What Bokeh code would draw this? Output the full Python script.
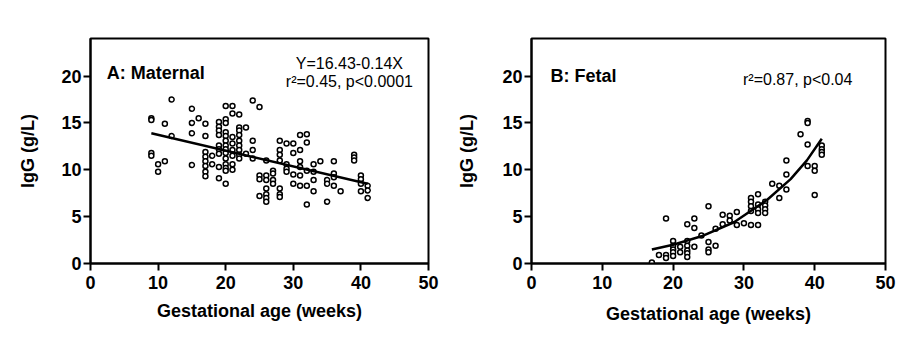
from bokeh.plotting import figure
from bokeh.layouts import row
from bokeh.models import Label, Range1d, FixedTicker
from bokeh.embed import file_html
from bokeh.resources import INLINE

# ---- Panel A: maternal IgG ----
mat_age = [9, 9, 9, 9, 10, 10, 11, 11, 12, 12, 15, 15, 15, 15, 16,
           17, 17, 17, 17, 17, 17, 17, 17, 18, 18,
           19, 19, 19, 19, 19, 19, 19, 19, 19,
           20, 20, 20, 20, 20, 20, 20, 20, 20, 20, 20, 20, 20, 20,
           21, 21, 21, 21, 21, 21, 21, 21,
           22, 22, 22, 22, 22, 22, 22, 22, 22,
           23, 23, 24, 24, 24, 24, 25, 25, 25, 25,
           26, 26, 26, 26, 26, 26, 26, 27, 27, 27, 27,
           28, 28, 28, 28, 28, 28, 28, 29, 29, 29, 29, 30, 30, 30, 30,
           31, 31, 31, 31, 31, 31, 32, 32, 32, 32, 32, 33, 33, 33, 33,
           34, 35, 35, 35, 36, 36, 36, 36, 37, 39, 39, 39,
           40, 40, 40, 40, 41, 41, 41]
mat_igg = [15.5, 15.3, 11.8, 11.5, 10.6, 9.8, 14.9, 10.9, 17.5, 13.6, 16.5, 15.0, 13.9, 10.5, 15.5,
           14.9, 13.6, 11.9, 11.4, 10.9, 10.4, 9.8, 9.3, 11.5, 10.6,
           15.1, 14.6, 14.2, 13.7, 12.6, 12.2, 11.7, 10.3, 9.1,
           16.8, 15.4, 15.0, 14.0, 13.6, 13.1, 12.6, 12.2, 11.8, 11.2, 10.6, 10.2, 9.9, 8.5,
           16.8, 16.0, 13.5, 12.8, 12.1, 11.5, 10.6, 10.0,
           15.9, 14.5, 14.2, 13.7, 13.1, 12.6, 12.1, 11.6, 11.2,
           14.5, 11.7, 17.4, 13.1, 12.1, 11.2, 16.7, 9.4, 9.0, 7.2,
           11.0, 9.4, 8.9, 8.0, 7.4, 7.0, 6.6, 9.9, 9.6, 8.9, 8.5,
           13.1, 12.1, 11.6, 11.0, 8.0, 7.4, 7.1, 12.8, 10.6, 10.1, 9.8, 12.8, 11.8, 9.5, 8.5,
           13.7, 12.1, 10.9, 10.3, 9.4, 8.3, 13.8, 12.9, 9.9, 8.3, 6.3, 10.6, 9.8, 8.9, 7.7,
           10.9, 8.9, 8.5, 6.6, 10.9, 9.6, 9.2, 8.3, 7.7, 11.6, 11.3, 11.0,
           9.4, 9.0, 8.5, 7.7, 8.3, 7.8, 7.0]
mat_fit_age = [9, 41]
mat_fit_igg = [13.9, 8.5]

# ---- Panel B: fetal IgG ----
fet_age = [17, 18, 19, 19, 19, 20, 20, 20, 20, 20, 21, 21,
           22, 22, 22, 22, 22, 22, 23, 23, 23, 24, 25, 25, 25, 25, 26, 26,
           27, 27, 28, 28, 29, 29, 30,
           31, 31, 31, 31, 31, 32, 32, 32, 32, 32, 33, 33, 33, 33,
           34, 35, 35, 36, 36, 36, 38, 39, 39, 39, 39, 40, 40, 40, 41, 41, 41, 41]
fet_igg = [0.1, 0.9, 4.8, 0.9, 0.6, 2.4, 1.9, 1.5, 1.2, 0.8, 1.8, 1.2,
           4.2, 2.4, 1.9, 1.4, 1.1, 0.7, 4.8, 3.8, 1.8, 3.0, 6.1, 2.3, 1.5, 1.2, 3.7, 1.9,
           5.2, 4.2, 5.1, 4.6, 5.5, 4.1, 4.3,
           7.0, 6.6, 6.1, 5.6, 4.1, 7.4, 6.3, 5.8, 5.4, 4.1, 6.6, 6.2, 5.8, 5.4,
           8.5, 8.3, 7.0, 11.0, 9.5, 7.9, 13.8, 15.2, 15.0, 12.7, 10.4, 10.4, 9.9, 7.3,
           12.6, 12.2, 11.9, 11.6]
fet_fit_age = [17, 20, 24, 28.6, 33.3, 36.6, 38.9, 41]
fet_fit_igg = [1.5, 2.0, 2.9, 4.4, 6.8, 9.0, 11.0, 13.3]

x_ticks = [0, 10, 20, 30, 40, 50]
y_ticks = [0, 5, 10, 15, 20]

FONT = "Liberation Sans"


def make_panel(width, bl, br, bt, bb, tick_len, ylab_standoff, xlab_standoff):
    p = figure(width=width, height=328, output_backend="svg", toolbar_location=None,
               x_range=Range1d(0, 50), y_range=Range1d(0, 24),
               min_border_left=bl, min_border_right=br,
               min_border_top=bt, min_border_bottom=bb)
    p.grid.visible = False
    p.outline_line_color = "black"
    p.outline_line_width = 2
    p.background_fill_color = "white"
    p.border_fill_color = "white"
    p.xaxis.ticker = FixedTicker(ticks=x_ticks)
    p.yaxis.ticker = FixedTicker(ticks=y_ticks)
    for ax in (p.xaxis[0], p.yaxis[0]):
        ax.axis_line_width = 2
        ax.axis_line_color = "black"
        ax.major_tick_line_width = 2
        ax.major_tick_line_color = "black"
        ax.major_tick_in = 0
        ax.major_tick_out = tick_len
        ax.minor_tick_line_color = None
        ax.major_label_text_font = FONT
        ax.major_label_text_font_style = "bold"
        ax.major_label_text_font_size = "18px"
        ax.major_label_text_color = "black"
        ax.axis_label_text_font = FONT
        ax.axis_label_text_font_style = "bold"
        ax.axis_label_text_font_size = "18px"
        ax.axis_label_text_color = "black"
    p.xaxis.major_label_standoff = 5
    p.yaxis.major_label_standoff = 2
    p.xaxis.axis_label = "Gestational age (weeks)"
    p.yaxis.axis_label = "IgG (g/L)"
    p.xaxis.axis_label_standoff = xlab_standoff
    p.yaxis.axis_label_standoff = ylab_standoff
    return p


pa = make_panel(452, 90, 24, 38, 63, 7, 20, 9)
pa.scatter(mat_age, mat_igg, marker="circle", size=5, fill_color="white",
           line_color="black", line_width=1.5)
pa.line(mat_fit_age, mat_fit_igg, line_color="black", line_width=2.5)
pa.add_layout(Label(x=2.4, y=20.3, text="A: Maternal", text_font=FONT,
                    text_font_style="bold", text_font_size="18px",
                    text_baseline="middle", text_align="left", text_color="black"))
pa.add_layout(Label(x=38.3, y=21.3, text="Y=16.43-0.14X", text_font=FONT,
                    text_font_size="16px", text_baseline="middle",
                    text_align="center", text_color="black"))
pa.add_layout(Label(x=38.3, y=19.4, text="r²=0.45, p<0.0001", text_font=FONT,
                    text_font_size="16px", text_baseline="middle",
                    text_align="center", text_color="black"))

pb = make_panel(447, 79, 14, 28, 65, 7, 22, 12)
pb.scatter(fet_age, fet_igg, marker="circle", size=5, fill_color="white",
           line_color="black", line_width=1.5)
pb.line(fet_fit_age, fet_fit_igg, line_color="black", line_width=2.5)
pb.add_layout(Label(x=2.7, y=20.0, text="B: Fetal", text_font=FONT,
                    text_font_style="bold", text_font_size="18px",
                    text_baseline="middle", text_align="left", text_color="black"))
pb.add_layout(Label(x=37.6, y=19.6, text="r²=0.87, p<0.04", text_font=FONT,
                    text_font_size="16px", text_baseline="middle",
                    text_align="center", text_color="black"))

layout = row(pa, pb)
open("out.html", "w").write(file_html(layout, INLINE))
